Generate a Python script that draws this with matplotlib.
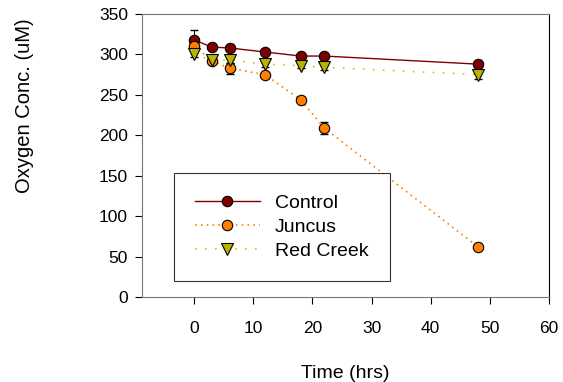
import matplotlib.pyplot as plt
import numpy as np

plt.rcParams['font.family'] = ['Liberation Sans', 'DejaVu Sans']

time = [0, 3, 6, 12, 18, 22, 48]
control = [318, 309, 308, 303, 298, 298, 288]
control_err = [12, 3, 4, 2, 2, 2, 3]
juncus = [311, 292, 283, 275, 244, 209, 62]
juncus_err = [4, 3, 7, 3, 3, 7, 3]
redcreek = [300, 293, 293, 288, 286, 284, 275]
redcreek_err = [3, 3, 3, 3, 3, 3, 5]

fig = plt.figure(figsize=(5.63, 3.82), dpi=100)
ax = fig.add_axes([142/563, 1-297/382, (549-142)/563, (297-14)/382])

styles = [
    ('Control', control, control_err, '#800000', '-', 'o', '#800000', 1.0),
    ('Juncus', juncus, juncus_err, '#ff8000', (0, (1, 2.5)), 'o', '#ff8000', 1.2),
    ('Red Creek', redcreek, redcreek_err, '#c8c800', (0, (1, 5)), 'v', '#b8b400', 1.2),
]
handles = []
for name, vals, err, col, ls, mk, fc, lw in styles:
    ax.errorbar(time, vals, yerr=err, fmt='none', ecolor='black',
                elinewidth=0.8, capsize=3, zorder=2)
    h, = ax.plot(time, vals, color=col, lw=lw, ls=ls, marker=mk,
                 ms=8 if mk == 'v' else 7.5, mfc=fc, mec='black', mew=0.8,
                 label=name, zorder=3)
    handles.append(h)

ax.set_xlim(-8.8, 60)
ax.set_ylim(0, 350)
ax.set_xticks(np.arange(0, 61, 10))
ax.set_yticks(np.arange(0, 351, 50))
ax.tick_params(labelsize=12.5, length=5, direction='out', colors='black')
ax.tick_params(axis='x', pad=12)
ax.tick_params(axis='y', pad=5)
for s in ['top', 'left', 'bottom']:
    ax.spines[s].set_color('#777777')
ax.set_xlabel('Time (hrs)', fontsize=14, labelpad=21)
ax.set_ylabel('Oxygen Conc. (uM)', fontsize=14.5)
ax.yaxis.set_label_coords(-0.265, 0.675)

leg = ax.legend(handles=handles, loc='lower left',
                bbox_to_anchor=((174-142)/407, (297-281)/283),
                borderaxespad=0,
                fontsize=14, frameon=True, fancybox=False, edgecolor='black',
                handlelength=3.3, borderpad=1.1, labelspacing=0.32,
                handletextpad=0.8)
leg.get_frame().set_linewidth(0.8)

fig.savefig('out.png', dpi=100)
